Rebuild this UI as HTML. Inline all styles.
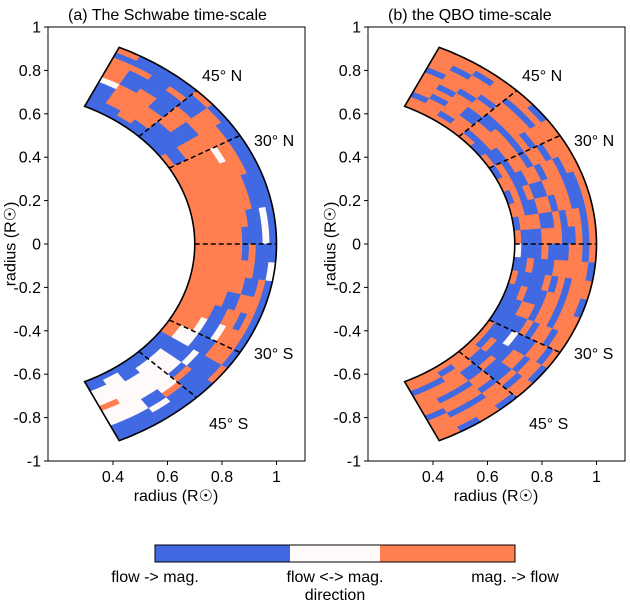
<!DOCTYPE html>
<html><head><meta charset="utf-8"><style>
body{margin:0;background:#fff;}
svg text{font-family:"Liberation Sans",sans-serif;fill:#000;}
</style></head><body>
<svg id="fig" width="630" height="610" viewBox="0 0 630 610" xmlns="http://www.w3.org/2000/svg">
<rect width="630" height="610" fill="#fff"/>
</svg>
<script>
// ---- data ----
const latEdges = [65,60,55,50,45,40,35,30,25,20,15,10,5,0,-5,-10,-15,-20,-25,-30,-35,-40,-45,-50,-55,-60,-65];
const rEdges = [0.70,0.725,0.75,0.775,0.80,0.825,0.85,0.875,0.90,0.925,0.95,0.975,1.00];
// codes: b = flow->mag, w = flow<->mag, o = mag->flow ; row per latitude band, inner->outer
const schwabeGrid = [
"bbbbbwoooobo","bboooobbbobb","boooooobbbbb","bbooobbbbobb","bbbboooobbbo","bbbbbbboooob",
"obbooooooobb","ooooooowoobb","oooooooooobb","ooooooooobbb","ooooooooobbb","oooooooobbwb",
"ooooooobbbwb","ooooooobobbb","ooooooooobbw","oooooooobbob","oooooobbooob","ooooobboobob",
"oooowbbwooob","oowwwbbbooob","bbbbbbwbbbbo","bbwwwwbobbbb","bbwwwwwwobbb","bbbwwwwbbwbb",
"bwwwwwwwwbbb","bbwwwowwwbbb"];
const qboGrid = [
"oobooooboooo","oooboboooboo","oboooobooobo","ooobbooboooo","oboobboooboo","bbooobooobob",
"obbooboboooo","bobooboobooo","oobboobooboo","bobobbooobbo","oobbooboobbo","booobboboobo",
"obbbooobbobo","wbbbobbboobo","bbobbbooooob","obbbbobobooo","bbobbbooboob","bbbooboobooo",
"bbbbbobooboo","obbbwbbboobo","obobbbooboob","oobbobbboboo","ooobboobooob","oboooboobooo",
"ooboobooboob","oobooooboooo"];
const xTicks = [0.4,0.6,0.8,1.0];
const xTickLabels = ["0.4","0.6","0.8","1"];
const yTicks = [1,0.8,0.6,0.4,0.2,0,-0.2,-0.4,-0.6,-0.8,-1];
const yTickLabels = ["1","0.8","0.6","0.4","0.2","0","-0.2","-0.4","-0.6","-0.8","-1"];
const dashLats = [45,30,0,-30,-45];
const colors = {b:"#4169E1", w:"#FFFAFA", o:"#FF7F50"};

const svg = document.getElementById('fig');
const NS = "http://www.w3.org/2000/svg";
function mk(tag, attrs){const e=document.createElementNS(NS,tag);for(const k in attrs)e.setAttribute(k,attrs[k]);return e;}

function panel(offX, grid, title, name){
  const g = mk('g',{});
  
  
  svg.appendChild(g);
  const X = x => offX + 4 + x*272.5;
  const Y = y => 244 - y*217;
  const P = (r,a) => [X(r*Math.cos(a*Math.PI/180)), Y(r*Math.sin(a*Math.PI/180))];
  const frame = mk('rect',{x:offX+48,y:27,width:257,height:434,fill:'none',stroke:'#000','stroke-width':1});
  
  
  g.appendChild(frame);
  for(let i=0;i<grid.length;i++){
    for(let j=0;j<12;j++){
      const a1=latEdges[i], a2=latEdges[i+1], r1=rEdges[j], r2=rEdges[j+1];
      const pts=[];
      for(let k=0;k<=3;k++){pts.push(P(r1,a1+(a2-a1)*k/3));}
      for(let k=3;k>=0;k--){pts.push(P(r2,a1+(a2-a1)*k/3));}
      const c = colors[grid[i][j]];
      const poly = mk('polygon',{points:pts.map(p=>p[0].toFixed(2)+','+p[1].toFixed(2)).join(' '),fill:c,stroke:c,'stroke-width':0.6});
      
      
      g.appendChild(poly);
    }
  }
  const pts=[];
  for(let a=65;a>=-65;a-=1) pts.push(P(1.0,a));
  for(let a=-65;a<=65;a+=1) pts.push(P(0.7,a));
  const outline = mk('polygon',{points:pts.map(p=>p[0].toFixed(2)+','+p[1].toFixed(2)).join(' '),fill:'none',stroke:'#000','stroke-width':1.6});
  
  
  g.appendChild(outline);
  dashLats.forEach(a=>{
    const p1=P(0.7,a), p2=P(1.0,a);
    const l = mk('line',{x1:p1[0],y1:p1[1],x2:p2[0],y2:p2[1],stroke:'#000','stroke-width':1.5,'stroke-dasharray':'5,3'});
    
    
    g.appendChild(l);
  });
  xTicks.forEach((t,i)=>{
    const x=X(t);
    const tk = mk('line',{x1:x,y1:461,x2:x,y2:465,stroke:'#000'});
    
    
    g.appendChild(tk);
    const tx = mk('text',{x:x,y:482,'font-size':16,'text-anchor':'middle'});
    tx.textContent = xTickLabels[i];
    
    
    g.appendChild(tx);
  });
  yTicks.forEach((t,i)=>{
    const y=Y(t);
    const tk = mk('line',{x1:offX+44,y1:y,x2:offX+48,y2:y,stroke:'#000'});
    
    
    g.appendChild(tk);
    const tx = mk('text',{x:offX+41,y:y+5.5,'font-size':16,'text-anchor':'end'});
    tx.textContent = yTickLabels[i];
    
    
    g.appendChild(tx);
  });
  const xt = mk('text',{x:offX+176,y:501,'font-size':16,'text-anchor':'middle'});
  xt.textContent='radius (R\u2609)';
  
  
  g.appendChild(xt);
  const yt = mk('text',{x:0,y:0,'font-size':16,'text-anchor':'middle',transform:`translate(${offX+5},244) rotate(-90)`});
  yt.setAttribute('dominant-baseline','hanging');
  yt.textContent='radius (R\u2609)';
  
  
  g.appendChild(yt);
  const tt = mk('text',{x:offX+68,y:20,'font-size':16});
  tt.textContent=title;
  
  
  g.appendChild(tt);
  [["45\u00B0 N",202,81],["30\u00B0 N",254,146],["30\u00B0 S",254,359],["45\u00B0 S",209,429]].forEach(a=>{
    const e = mk('text',{x:offX+a[1],y:a[2],'font-size':16});
    e.textContent=a[0];
    
    
    g.appendChild(e);
  });
}
panel(0, schwabeGrid, "(a) The Schwabe time-scale", "schwabe-panel");
panel(320, qboGrid, "(b) the QBO time-scale", "qbo-panel");

const cb = mk('g',{});


svg.appendChild(cb);
[[155,135,'#4169E1'],[290,90,'#FFFAFA'],[380,135,'#FF7F50']].forEach(s=>{
  const r = mk('rect',{x:s[0],y:545,width:s[1],height:17,fill:s[2]});
  
  
  cb.appendChild(r);
});
const cbf = mk('rect',{x:155,y:545,width:360,height:17,fill:'none',stroke:'#000'});


cb.appendChild(cbf);
[["flow -> mag.",155],["flow <-> mag.",335],["mag. -> flow",515]].forEach(a=>{
  const t = mk('text',{x:a[1],y:582,'font-size':16,'text-anchor':'middle'});
  t.textContent=a[0];
  
  
  cb.appendChild(t);
});
const dl = mk('text',{x:335,y:600,'font-size':16,'text-anchor':'middle'});
dl.textContent='direction';


cb.appendChild(dl);
</script>
</body></html>
